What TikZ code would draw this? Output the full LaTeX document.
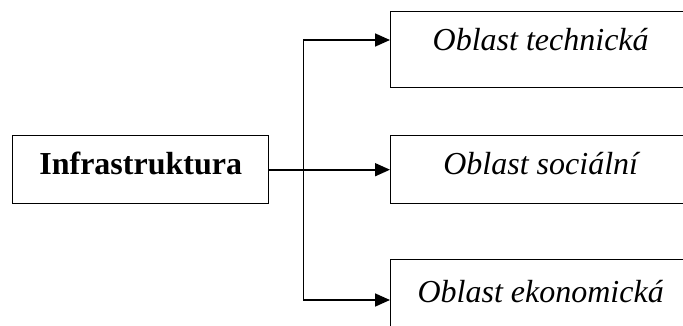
\documentclass[tikz,border=0pt]{standalone}
\usepackage{fontspec}
\setmainfont{Liberation Serif}
\usetikzlibrary{arrows.meta}
\tikzset{
  box/.style={draw, line width=1.4pt, inner xsep=0pt, inner ysep=0pt, anchor=north west},
  leftbox/.style={box, minimum width=256pt, text height=39pt, text depth=29pt,
    font=\fontsize{32}{38}\selectfont\bfseries},
  rbox/.style={box, minimum width=300pt, font=\fontsize{32}{38}\selectfont\itshape},
  conn/.style={line width=1.7pt},
  arr/.style={conn, -{Triangle[length=15pt, width=13pt]}}
}
\begin{document}
\begin{tikzpicture}[x=1pt, y=-1pt]
\clip (0,0) rectangle (683,325);
\node[leftbox] (L) at (12,135) {Infrastruktura};
\node[rbox, text height=39pt, text depth=37pt] (T) at (390,11) {Oblast technická};
\node[rbox, text height=39pt, text depth=29pt] (S) at (390,135) {Oblast sociální};
\node[rbox, text height=43pt, text depth=40pt] (E) at (390,259) {Oblast ekonomická};
\coordinate (J) at ([xshift=34pt]L.east);
\draw[conn] (L.east) -- (J);
\draw[arr] (J) |- ([yshift=-29pt]T.north west);
\draw[arr] (J) -- (J -| S.west);
\draw[arr] (J) |- ([yshift=-41pt]E.north west);
\end{tikzpicture}
\end{document}
